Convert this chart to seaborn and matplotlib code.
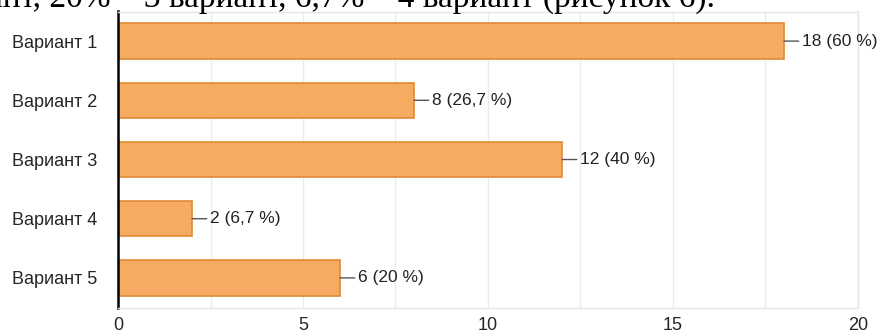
import seaborn as sns
import matplotlib.pyplot as plt
import pandas as pd

variants = ['Вариант 1', 'Вариант 2', 'Вариант 3', 'Вариант 4', 'Вариант 5']
counts = [18, 8, 12, 2, 6]
percents = [60, 26.7, 40, 6.7, 20]
x_ticks = [0, 5, 10, 15, 20]
caption = 'ант, 20% – 3 вариант, 6,7% – 4 вариант (рисунок 6).'

sns.set_style('white')
plt.rcParams['font.family'] = ['Liberation Sans', 'DejaVu Sans']

df = pd.DataFrame({'variant': variants, 'count': counts})

fig = plt.figure(figsize=(8.85, 3.36), dpi=100)
ax = fig.add_axes([118 / 885, 28.5 / 336, 740 / 885, 296 / 336])

sns.barplot(data=df, x='count', y='variant', orient='h', ax=ax, width=0.6,
            color='#f5ac62', edgecolor='#e08a34', linewidth=1.2, saturation=1)

# value labels with a short leader line
for i, (c, p) in enumerate(zip(counts, percents)):
    lab = f"{c} ({p:g} %)".replace('.', ',')
    ax.annotate(lab, xy=(c, i), xytext=(18, 0), textcoords='offset pixels',
                va='center', ha='left', fontsize=12.5, color='#222222',
                arrowprops=dict(arrowstyle='-', color='#555555', lw=1,
                                shrinkA=0, shrinkB=0))

ax.set_xlim(0, 20)
ax.set_ylim(4.5, -0.5)
ax.set_xticks(x_ticks)
ax.set_xticks([2.5, 7.5, 12.5, 17.5], minor=True)
ax.grid(axis='x', which='both', color='#ebebeb', lw=1)
ax.set_axisbelow(True)
ax.set_xlabel('')
ax.set_ylabel('')
ax.tick_params(axis='x', which='both', length=0, pad=7, labelsize=13)
ax.tick_params(axis='y', length=0, pad=15, labelsize=13)
for s in ['top', 'right', 'bottom']:
    ax.spines[s].set_color('#e6e6e6')
    ax.spines[s].set_linewidth(1)
ax.spines['left'].set_color('black')
ax.spines['left'].set_linewidth(1.8)

# cut-off line of document text above the chart
fig.text(-0.014, 1 - 7 / 336, caption, family='Liberation Serif', fontsize=24,
         ha='left', va='baseline', color='black')

fig.savefig('out.png', dpi=100)
